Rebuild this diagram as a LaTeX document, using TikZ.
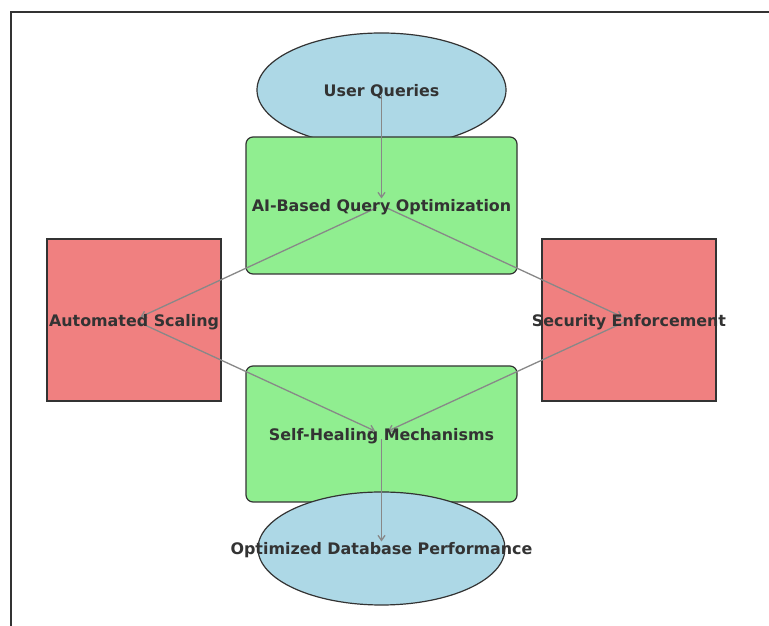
\documentclass[tikz,border=0pt]{standalone}
\usepackage{fontspec}
\setmainfont{DejaVu Sans}
\usetikzlibrary{shapes.geometric,arrows.meta}
\definecolor{lblue}{HTML}{ADD8E6}
\definecolor{lgreen}{HTML}{90EE90}
\definecolor{lcoral}{HTML}{F08080}
\definecolor{edgec}{HTML}{333333}
\definecolor{linkc}{HTML}{888888}
\definecolor{txt}{HTML}{333333}
\tikzset{
  x=1pt,y=1pt,
  ell/.style={ellipse,draw=edgec,line width=1.2pt,fill=lblue,inner sep=0pt},
  gbox/.style={rectangle,rounded corners=7pt,draw=edgec,line width=1.2pt,fill=lgreen,inner sep=0pt},
  rbox/.style={rectangle,draw=edgec,line width=1.2pt,fill=lcoral,inner sep=0pt},
  lbl/.style={font=\bfseries\fontsize{15.9}{18}\selectfont,text=txt,inner sep=0pt,yshift=-2pt},
  link/.style={draw=linkc,line width=1.3pt,-{Straight Barb[length=5pt,width=7pt]},shorten <=5pt,shorten >=7pt},
}
\begin{document}
\begin{tikzpicture}
\useasboundingbox (0,0) rectangle (769,626);
\fill[white] (0,0) rectangle (769,626);
\draw[edgec,line width=1.1pt] (11,0) -- (11,614) -- (769,614);
% nodes
\node[ell,minimum width=249pt,minimum height=114pt] (uq) at (381.5,536) {};
\node[gbox,minimum width=271pt,minimum height=137pt] (ai) at (381.5,420.5) {};
\node[rbox,minimum width=174pt,minimum height=162pt] (as) at (134,306) {};
\node[rbox,minimum width=174pt,minimum height=162pt] (se) at (629,306) {};
\node[gbox,minimum width=271pt,minimum height=136pt] (sh) at (381.5,192) {};
\node[ell,minimum width=247pt,minimum height=113pt] (od) at (381.5,77.5) {};
% edges
\draw[link] (uq.center) -- (ai.center);
\draw[link] (ai.center) -- (as.center);
\draw[link] (ai.center) -- (se.center);
\draw[link] (as.center) -- (sh.center);
\draw[link] (se.center) -- (sh.center);
\draw[link] (sh.center) -- (od.center);
% labels
\node[lbl] (tuq) at (uq.center) {User Queries};
\node[lbl] (tai) at (ai.center) {AI-Based Query Optimization};
\node[lbl] (tas) at (as.center) {Automated Scaling};
\node[lbl] (tse) at (se.center) {Security Enforcement};
\node[lbl] (tsh) at (sh.center) {Self-Healing Mechanisms};
\node[lbl] (tod) at (od.center) {Optimized Database Performance};
\end{tikzpicture}
\end{document}
